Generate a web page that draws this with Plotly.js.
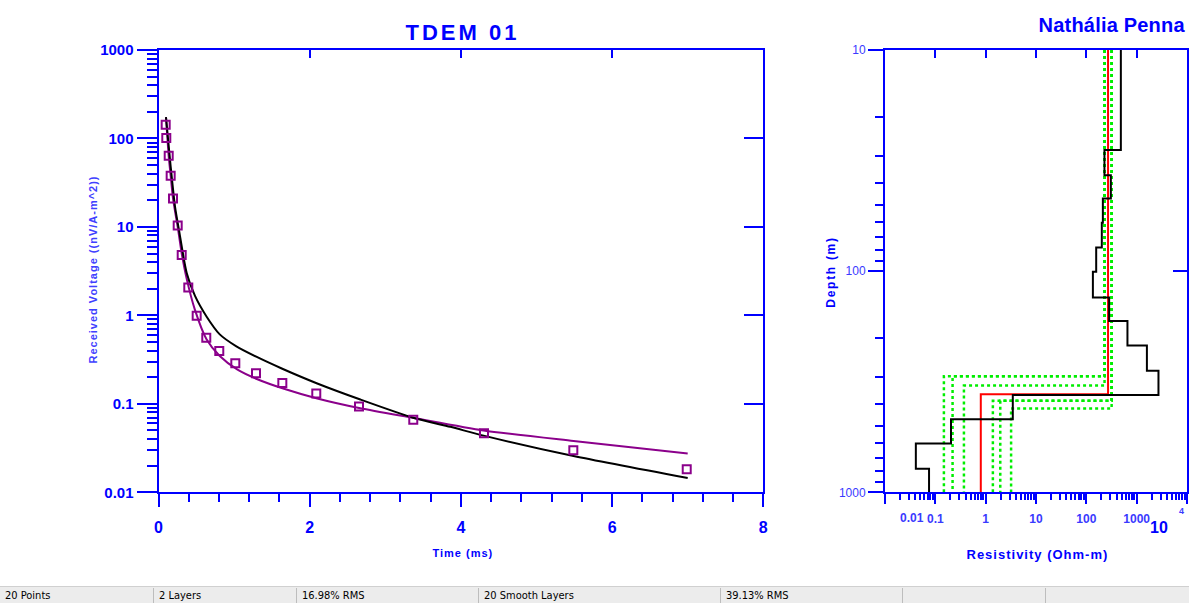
<!DOCTYPE html>
<html>
<head>
<meta charset="utf-8">
<script src="https://cdn.plot.ly/plotly-3.0.1.min.js"></script>
<style>
html,body{margin:0;padding:0;background:#fff;overflow:hidden;}
#chart{position:absolute;left:0;top:0;width:1189px;height:603px;}
#status{position:absolute;left:0;top:586px;width:1189px;height:17px;background:#ececec;border-top:1px solid #d0d0d0;
  font-family:'Liberation Sans Narrow','DejaVu Sans Condensed','Liberation Sans',sans-serif;font-size:11px;color:#000;}
.cell{position:absolute;top:1px;height:16px;line-height:15px;box-sizing:border-box;padding-left:5px;
  border-left:1px solid #bdbdbd;white-space:nowrap;}
</style>
</head>
<body>
<div id="chart"></div>
<div id="status"></div>
<script>
// ---------------- DATA ----------------
// Left panel: TDEM 01 decay
const obsTime = [0.095,0.103,0.135,0.161,0.192,0.254,0.307,0.394,0.505,0.632,0.804,1.016,1.290,1.638,2.087,2.652,3.370,4.306,5.487,6.987];
const obsVolt = [143,101,63.8,37.9,21.0,10.4,4.81,2.06,0.99,0.557,0.395,0.287,0.222,0.172,0.131,0.0936,0.0659,0.0464,0.0298,0.0182];

const layerFitTime = [0.099,0.135,0.161,0.192,0.254,0.307,0.374,0.48,0.635,0.81,1.04,1.30,1.66,2.10,2.67,3.38,4.30,5.49,7.0];
const layerFitVolt = [174,63.1,38.0,20.9,10.0,5.01,2.57,1.17,0.537,0.347,0.245,0.191,0.148,0.115,0.0891,0.0692,0.0501,0.0380,0.0275];

const smoothFitTime = [0.099,0.16,0.22,0.27,0.373,0.483,0.637,0.81,1.03,1.30,1.63,2.10,2.67,3.38,3.86,4.30,5.49,7.0];
const smoothFitVolt = [174,49.0,16.6,9.33,3.02,1.66,0.966,0.610,0.447,0.339,0.251,0.170,0.112,0.0692,0.0550,0.0437,0.0257,0.0145];

const voltTickVals = [0.01,0.1,1,10,100,1000];
const voltTickText = ['0.01','0.1','1','10','100','1000'];

// Right panel: resistivity vs depth
const smoothTops = [10,28.3,36.8,46.9,60.4,78.1,100.7,131.5,167.9,216.7,282.4,363,467.7,602,782];
const smoothRho  = [485,229,307,213,203,157,135,284,656,1597,2711,3.46,0.205,0.041,0.075];

const layerTops = [10,360];
const layerRho  = [270,0.8];

const equivRho1  = [230,230,230,318,318,318];
const equivDepth = [299,299,329,386,386,418];
const equivRho2  = [0.148,0.22,0.37,1.39,1.95,3.2];

const depthTickVals = [10,100,1000];
const depthTickText = ['10','100','1000'];
const rhoTickVals = [0.01,0.1,1,10,100,1000,10000];
const rhoTickText = ['','0.1','1','10','100','1000',''];

const statusTexts = ['20 Points','2 Layers','16.98% RMS','20 Smooth Layers','39.13% RMS','',''];

// ---------------- STYLE ----------------
const B = '#0000ff';
const PURPLE = '#8b008b';
const FONT = 'Arial, "Liberation Sans", sans-serif';
const DEPTH_MAX = 1000;

function minorLog(lo, hi){ const v=[]; for(let e=lo;e<hi;e++){ for(let m=2;m<=9;m++) v.push(m*Math.pow(10,e)); } return v; }

const traces = [];
traces.push({x:layerFitTime, y:layerFitVolt, xaxis:'x', yaxis:'y', mode:'lines',
  line:{color:PURPLE, width:2, shape:'spline', smoothing:0.7}, hoverinfo:'skip'});
traces.push({x:smoothFitTime, y:smoothFitVolt, xaxis:'x', yaxis:'y', mode:'lines',
  line:{color:'#000000', width:2, shape:'spline', smoothing:0.7}, hoverinfo:'skip'});
traces.push({x:obsTime, y:obsVolt, xaxis:'x', yaxis:'y', mode:'markers',
  marker:{symbol:'square-open', size:8, color:PURPLE, line:{width:2, color:PURPLE}}, hoverinfo:'skip'});

for(let i=0;i<equivRho1.length;i++){
  traces.push({x:[equivRho1[i], equivRho2[i], equivRho2[i]], y:[10, equivDepth[i], DEPTH_MAX],
    xaxis:'x2', yaxis:'y2', mode:'lines', line:{color:'#00ee00', width:2.5, dash:'dot', shape:'vh'}, hoverinfo:'skip'});
}
traces.push({x:layerRho.concat([layerRho[layerRho.length-1]]), y:layerTops.concat([DEPTH_MAX]),
  xaxis:'x2', yaxis:'y2', mode:'lines', line:{color:'#ff0000', width:2, shape:'vh'}, hoverinfo:'skip'});
traces.push({x:smoothRho.concat([smoothRho[smoothRho.length-1]]), y:smoothTops.concat([DEPTH_MAX]),
  xaxis:'x2', yaxis:'y2', mode:'lines', line:{color:'#000000', width:2, shape:'vh'}, hoverinfo:'skip'});
// empty traces so the frame (top / right) axes get drawn
traces.push({x:[], y:[], xaxis:'x3', yaxis:'y3', mode:'lines', hoverinfo:'skip'});
traces.push({x:[], y:[], xaxis:'x4', yaxis:'y4', mode:'lines', hoverinfo:'skip'});

const W=1189, H=603;
const px = v => v/W;
const py = v => (H-v)/H;
const yDom = [py(492.3), py(50)];

const axBase = {showgrid:false, zeroline:false, showline:true, linecolor:B, linewidth:2, tickcolor:B, tickwidth:2, fixedrange:true};

const layout = {
  width:W, height:H, margin:{l:0,r:0,t:0,b:0}, showlegend:false,
  paper_bgcolor:'#ffffff', plot_bgcolor:'rgba(0,0,0,0)',
  xaxis: Object.assign({}, axBase, {domain:[px(158.5), px(763.3)], anchor:'y', range:[0,8], tickmode:'linear', tick0:0, dtick:2,
    ticks:'outside', ticklen:13, ticklabelstandoff:6,
    tickfont:{family:FONT, size:16, color:B, weight:'bold'},
    minor:{tickmode:'linear', tick0:0, dtick:0.4, ticks:'outside', ticklen:8, tickwidth:2, tickcolor:B, showgrid:false}}),
  yaxis: Object.assign({}, axBase, {domain:yDom, anchor:'x', type:'log', range:[-2,3], tickmode:'array',
    tickvals:voltTickVals, ticktext:voltTickText, ticks:'outside', ticklen:20,
    tickfont:{family:FONT, size:15, color:B, weight:'bold'},
    minor:{tickmode:'array', tickvals:minorLog(-2,3), ticks:'outside', ticklen:10, tickwidth:2, tickcolor:B, showgrid:false}}),
  xaxis3: Object.assign({}, axBase, {overlaying:'x', side:'top', anchor:'y', range:[0,8], tickmode:'linear', tick0:0, dtick:2,
    ticks:'inside', ticklen:8, showticklabels:false}),
  yaxis3: Object.assign({}, axBase, {overlaying:'y', side:'right', anchor:'x', type:'log', range:[-2,3], tickmode:'array',
    tickvals:voltTickVals, ticks:'inside', ticklen:19, showticklabels:false}),

  xaxis2: Object.assign({}, axBase, {domain:[px(885), px(1187)], anchor:'y2', type:'log', range:[-2,4], tickmode:'array',
    tickvals:rhoTickVals, ticktext:rhoTickText, ticks:'outside', ticklen:10, ticklabelstandoff:4,
    tickfont:{family:FONT, size:12, color:'#3a3aff', weight:'bold'},
    minor:{tickmode:'array', tickvals:minorLog(-2,4), ticks:'outside', ticklen:6, tickwidth:2, tickcolor:B, showgrid:false}}),
  yaxis2: Object.assign({}, axBase, {domain:yDom, anchor:'x2', type:'log', range:[3,1], tickmode:'array',
    tickvals:depthTickVals, ticktext:depthTickText, ticks:'outside', ticklen:15,
    tickfont:{family:FONT, size:12, color:'#3a3aff'},
    minor:{tickmode:'array', tickvals:minorLog(1,3), ticks:'outside', ticklen:8, tickwidth:2, tickcolor:B, showgrid:false}}),
  xaxis4: Object.assign({}, axBase, {overlaying:'x2', side:'top', anchor:'y2', type:'log', range:[-2,4], tickmode:'array',
    tickvals:rhoTickVals, ticks:'inside', ticklen:8, showticklabels:false}),
  yaxis4: Object.assign({}, axBase, {overlaying:'y2', side:'right', anchor:'x2', type:'log', range:[3,1], tickmode:'array',
    tickvals:depthTickVals, ticks:'inside', ticklen:14, showticklabels:false}),

  annotations:[
    {text:'TDEM 01', xref:'paper', yref:'paper', x:px(462), y:py(33), xanchor:'center', yanchor:'middle', showarrow:false,
      font:{family:FONT, size:22, color:B, weight:'bold'}},
    {text:'Nathália Penna', xref:'paper', yref:'paper', x:px(1038), y:py(25), xanchor:'left', yanchor:'middle', showarrow:false,
      font:{family:FONT, size:20, color:B, weight:'bold'}},
    {text:'Received Voltage ((nV/A-m^2))', xref:'paper', yref:'paper', x:px(93), y:py(270), xanchor:'center', yanchor:'middle',
      textangle:-90, showarrow:false, font:{family:FONT, size:11, color:'#4040ff', weight:'bold'}},
    {text:'Time (ms)', xref:'paper', yref:'paper', x:px(463), y:py(553), xanchor:'center', yanchor:'middle', showarrow:false,
      font:{family:FONT, size:11, color:B, weight:'bold'}},
    {text:'Depth (m)', xref:'paper', yref:'paper', x:px(831), y:py(272), xanchor:'center', yanchor:'middle', textangle:-90, showarrow:false,
      font:{family:FONT, size:12, color:B, weight:'bold'}},
    {text:'Resistivity (Ohm-m)', xref:'paper', yref:'paper', x:px(1037.5), y:py(554), xanchor:'center', yanchor:'middle', showarrow:false,
      font:{family:FONT, size:13, color:B, weight:'bold'}},
    {text:'0.01', xref:'x2', yref:'paper', x:-2, xshift:27, y:py(518), xanchor:'center', yanchor:'middle', showarrow:false,
      font:{family:FONT, size:12, color:'#3a3aff', weight:'bold'}},
    {text:'10', xref:'x2', yref:'paper', x:4, xshift:-28, y:py(527), xanchor:'center', yanchor:'middle', showarrow:false,
      font:{family:FONT, size:16, color:B, weight:'bold'}},
    {text:'4', xref:'x2', yref:'paper', x:4, xshift:-6, y:py(511), xanchor:'center', yanchor:'middle', showarrow:false,
      font:{family:FONT, size:9, color:'#3a3aff', weight:'bold'}}
  ]
};

const spacing = {'TDEM 01':'3px','Nathália Penna':'0.2px','Received Voltage ((nV/A-m^2))':'1px','Time (ms)':'1px','Depth (m)':'1.7px','Resistivity (Ohm-m)':'1px'};

Plotly.newPlot('chart', traces, layout, {displayModeBar:false, staticPlot:true}).then(function(){
  document.querySelectorAll('#chart .annotation-text').forEach(function(t){
    const s = spacing[t.textContent];
    if(s) t.style.letterSpacing = s;
  });
});

// status bar
const cellLeft = [0,153,296,478,720,902,1045];
const status = document.getElementById('status');
statusTexts.forEach(function(txt,i){
  const d = document.createElement('div');
  d.className = 'cell';
  d.style.left = cellLeft[i] + 'px';
  d.style.width = ((i+1<cellLeft.length ? cellLeft[i+1] : W) - cellLeft[i]) + 'px';
  if(i===0) d.style.borderLeft = 'none';
  d.textContent = txt;
  status.appendChild(d);
});
</script>
</body>
</html>
